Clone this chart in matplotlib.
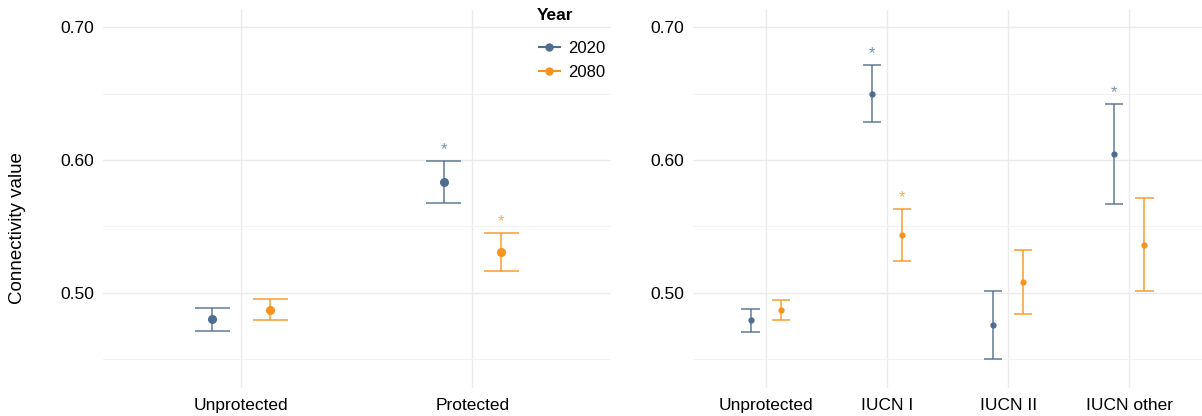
import matplotlib
matplotlib.use("Agg")
import matplotlib.pyplot as plt
from matplotlib.lines import Line2D
import numpy as np

plt.rcParams["font.family"] = ["Liberation Sans", "DejaVu Sans"]

# --- data -------------------------------------------------------------
years = ["2020", "2080"]
colors = {"2020": "#4F6D8F", "2080": "#F7941D"}

left_cats = ["Unprotected", "Protected"]
left_mean = {"2020": [0.480, 0.5834], "2080": [0.4872, 0.5304]}
left_low = {"2020": [0.4714, 0.5678], "2080": [0.4797, 0.5166]}
left_high = {"2020": [0.4885, 0.599], "2080": [0.4953, 0.5447]}
left_sig = {"2020": [False, True], "2080": [False, True]}

right_cats = ["Unprotected", "IUCN I", "IUCN II", "IUCN other"]
right_mean = {"2020": [0.4792, 0.6497, 0.4757, 0.6043],
              "2080": [0.4870, 0.5434, 0.5080, 0.5359]}
right_low = {"2020": [0.4706, 0.6284, 0.4500, 0.5670],
             "2080": [0.4797, 0.5236, 0.4842, 0.5013]}
right_high = {"2020": [0.4875, 0.6716, 0.5013, 0.6420],
              "2080": [0.4947, 0.5630, 0.5320, 0.5713]}
right_sig = {"2020": [False, True, False, True],
             "2080": [False, True, False, False]}

y_ticks = [0.50, 0.60, 0.70]
y_minor = [0.45, 0.55, 0.65]
offsets = {"2020": -0.125, "2080": 0.125}


def draw_panel(ax, cats, mean, low, high, sig, msize):
    x = np.arange(1, len(cats) + 1)
    for yr in years:
        xs = x + offsets[yr]
        m = np.array(mean[yr])
        lo = np.array(low[yr])
        hi = np.array(high[yr])
        c = colors[yr]
        ax.vlines(xs, lo, hi, color=c, lw=1.1, alpha=0.9, zorder=3)
        ax.hlines(lo, xs - 0.075, xs + 0.075, color=c, lw=1.1, alpha=0.9, zorder=3)
        ax.hlines(hi, xs - 0.075, xs + 0.075, color=c, lw=1.1, alpha=0.9, zorder=3)
        ax.plot(xs, m, "o", color=c, ms=msize, zorder=4)
        for xi, h, s in zip(xs, hi, sig[yr]):
            if s:
                ax.text(xi, h + 0.0085, "*", color=c, alpha=0.75, fontsize=12,
                        ha="center", va="center")

    ax.set_xlim(0.4, len(cats) + 0.6)
    ax.set_ylim(0.4282, 0.713)
    ax.set_xticks(x)
    ax.set_xticklabels(cats, fontsize=12.5)
    ax.set_yticks(y_ticks)
    ax.set_yticklabels([f"{v:.2f}" for v in y_ticks], fontsize=12.5)
    ax.set_yticks(y_minor, minor=True)
    ax.tick_params(which="both", length=0, pad=6)
    ax.tick_params(axis="x", pad=7)
    ax.grid(True, which="major", color="#EBEBEB", lw=1.0, zorder=0)
    ax.grid(True, which="minor", axis="y", color="#F2F2F2", lw=0.8, zorder=0)
    for sp in ax.spines.values():
        sp.set_visible(False)


fig = plt.figure(figsize=(12.02, 4.16), dpi=100)
ax1 = fig.add_axes([0.0854, 0.0673, 0.423, 0.9087])
ax2 = fig.add_axes([0.5765, 0.0673, 0.4235, 0.9087])

draw_panel(ax1, left_cats, left_mean, left_low, left_high, left_sig, 5.5)
draw_panel(ax2, right_cats, right_mean, right_low, right_high, right_sig, 3.5)

fig.text(18 / 1202, 1 - 228 / 416, "Connectivity value", fontsize=13.5,
         rotation=90, ha="center", va="center")

# legend with a separate title, as in the ggplot original
handles = [Line2D([0], [0], color=colors[yr], marker="o", ms=5, lw=1.5)
           for yr in years]
ax1.legend(handles, years, loc="upper right",
           bbox_to_anchor=(1.019, 0.958), frameon=False, fontsize=12,
           handlelength=1.3, handletextpad=0.5, labelspacing=0.55)
fig.text(537 / 1202, 1 - 15 / 416, "Year", fontsize=12.5, fontweight="bold",
         ha="left", va="center")

fig.savefig("out.png", dpi=100)
